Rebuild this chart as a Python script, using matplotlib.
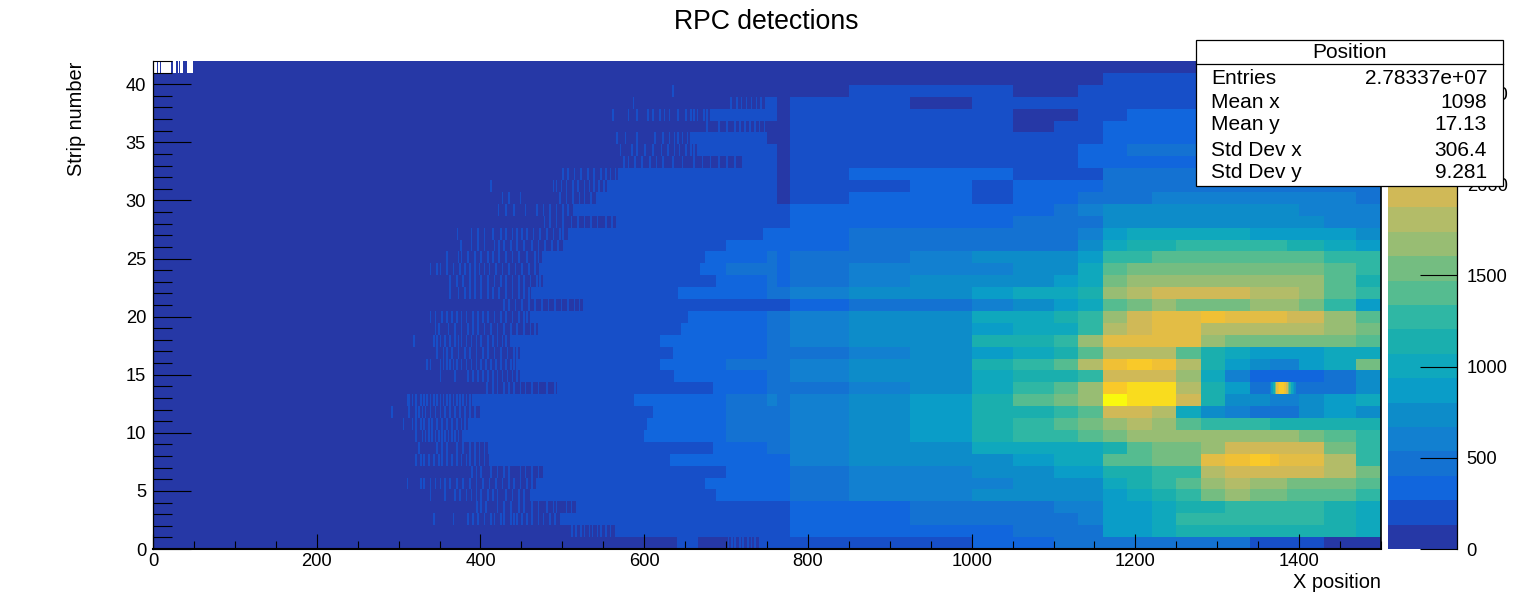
import numpy as np
import matplotlib
matplotlib.use('Agg')
import matplotlib.pyplot as plt
from matplotlib.colors import ListedColormap, BoundaryNorm
from matplotlib.patches import Rectangle
from matplotlib.ticker import MultipleLocator

plt.rcParams['font.family'] = ['Liberation Sans', 'DejaVu Sans']

# x position bin edges, finer where the picture has more structure
x_edges = [0, 320, 360, 400, 450, 500, 550, 600, 650, 700, 750, 762, 778, 850, 925, 1000,
           1050, 1100, 1130, 1160, 1190, 1220, 1250, 1280, 1310, 1340, 1365, 1375, 1385,
           1400, 1430, 1470, 1500]

strip_00 = [0,0,0,0,0,0,0,0,0,1,1,1,1,1,1,2,2,3,3,3,3,3,3,3,3,1,1,1,1,1,0,0]
strip_01 = [0,0,0,0,0,0,1,1,1,1,1,1,2,2,2,2,3,3,3,6,6,7,8,8,8,8,8,8,8,8,8,7]
strip_02 = [0,0,0,0,1,1,1,1,1,1,1,1,2,2,3,3,3,3,4,6,6,7,9,9,9,9,9,9,9,9,8,7]
strip_03 = [0,0,0,0,1,1,1,1,1,1,1,1,2,2,3,3,3,4,4,6,6,7,8,8,9,9,9,9,9,9,8,7]
strip_04 = [0,0,0,1,1,1,1,2,2,2,2,2,3,4,4,5,5,5,5,6,7,8,9,11,12,11,11,11,10,10,10,9]
strip_05 = [0,0,0,1,1,1,1,1,2,2,2,2,3,4,4,4,5,5,5,7,8,9,10,12,13,12,12,12,11,11,11,10]
strip_06 = [0,0,0,0,1,1,1,1,1,2,2,2,3,4,4,5,5,6,6,8,8,9,9,13,14,14,14,14,14,14,13,11]
strip_07 = [0,1,1,1,1,1,1,1,2,2,2,2,4,5,5,5,6,7,7,10,10,11,11,15,16,17,16,15,15,15,13,9]
strip_08 = [0,0,1,1,1,1,1,1,2,2,3,3,4,5,5,7,7,7,7,8,10,11,11,12,14,14,14,14,14,14,11,9]
strip_09 = [0,0,1,1,1,1,1,2,2,3,3,3,4,5,6,8,9,9,10,11,12,12,12,12,12,12,12,12,12,11,10,9]
strip_10 = [0,0,1,1,1,1,1,2,2,3,3,3,4,5,6,8,9,10,11,12,13,12,10,9,9,9,8,8,8,8,8,8]
strip_11 = [0,1,1,1,1,1,1,2,2,3,3,3,4,5,6,8,8,9,10,14,14,13,7,5,4,3,3,3,3,5,6,5]
strip_12 = [0,0,1,1,1,1,1,2,2,3,4,3,4,5,6,8,10,11,12,19,18,18,14,8,5,5,4,4,4,5,6,7]
strip_13 = [0,0,0,0,1,1,1,1,1,2,3,3,3,4,5,7,9,10,12,17,18,18,13,8,6,3,3,3,3,3,3,5]
strip_14 = [0,0,0,1,1,1,1,1,2,2,3,3,4,5,5,7,8,8,9,14,14,14,12,7,4,2,2,2,2,2,3,5]
strip_15 = [0,0,1,1,1,1,1,1,2,3,3,3,4,5,5,8,9,10,13,16,17,16,13,8,6,5,4,4,4,6,7,11]
strip_16 = [0,0,0,1,1,1,1,1,2,2,3,3,3,4,5,6,7,8,10,13,13,13,10,8,7,6,6,6,6,6,7,7]
strip_17 = [0,1,1,1,1,1,1,2,2,2,3,3,4,5,5,8,8,9,12,15,15,15,15,12,11,11,11,11,11,11,11,10]
strip_18 = [0,0,0,0,1,1,1,1,2,2,3,3,4,5,5,6,7,7,9,13,14,15,15,13,13,13,13,13,13,13,12,11]
strip_19 = [0,0,0,1,1,1,1,1,2,2,3,3,4,5,5,7,7,8,9,12,14,15,15,16,15,15,15,15,14,14,12,10]
strip_20 = [0,0,0,0,0,1,1,1,1,1,1,1,2,3,3,4,5,6,7,10,11,12,11,11,11,12,12,12,12,11,9,6]
strip_21 = [0,0,0,0,1,1,1,1,2,2,3,3,4,5,5,6,7,7,8,12,13,14,14,14,14,13,13,13,13,12,10,9]
strip_22 = [0,0,0,0,1,1,1,1,2,2,3,2,3,4,5,5,5,6,7,11,12,12,12,12,12,12,12,12,12,12,10,8]
strip_23 = [0,0,0,0,1,1,1,1,2,3,3,2,3,4,4,4,5,5,7,10,11,11,11,11,11,11,11,11,11,11,10,9]
strip_24 = [0,0,0,0,1,1,1,1,2,2,3,2,3,3,4,5,5,5,6,9,9,10,10,10,10,10,10,10,10,10,9,9]
strip_25 = [0,0,0,0,0,1,1,1,1,2,2,2,2,3,3,3,3,3,5,7,8,8,9,9,9,9,9,9,8,8,7,6]
strip_26 = [0,0,0,0,0,1,1,1,1,1,2,2,2,3,3,3,3,3,4,6,7,7,7,7,7,6,6,6,6,6,6,5]
strip_27 = [0,0,0,0,0,0,1,1,1,1,1,1,2,2,2,2,3,3,3,5,5,5,5,5,5,5,5,5,5,5,4,4]
strip_28 = [0,0,0,0,1,1,1,1,1,1,1,1,2,2,2,2,2,3,4,5,5,5,5,5,5,5,5,5,5,4,4,4]
strip_29 = [0,0,0,0,0,1,1,1,1,1,1,0,1,2,2,1,2,2,3,3,3,4,4,4,4,4,4,4,4,4,4,3]
strip_30 = [0,0,0,0,0,0,1,1,1,1,1,0,1,1,2,1,2,2,2,3,3,3,3,3,3,3,3,3,3,3,3,3]
strip_31 = [0,0,0,0,0,0,1,1,1,1,1,0,1,2,2,2,1,1,1,3,3,3,3,3,3,3,3,3,3,3,3,3]
strip_32 = [0,0,0,0,0,0,0,0,0,1,1,0,1,1,1,1,1,1,2,2,2,2,2,2,2,2,2,2,2,2,2,2]
strip_33 = [0,0,0,0,0,0,0,0,1,1,1,0,1,1,1,1,1,1,2,2,3,3,3,3,3,3,3,3,3,3,3,3]
strip_34 = [0,0,0,0,0,0,0,0,1,1,0,0,1,1,1,1,1,1,1,2,2,2,2,2,2,2,2,2,2,2,2,2]
strip_35 = [0,0,0,0,0,0,0,0,0,0,0,0,1,1,1,1,0,1,1,2,2,2,2,2,2,2,2,2,2,2,2,2]
strip_36 = [0,0,0,0,0,0,0,0,0,1,1,0,1,1,1,1,0,0,1,1,2,2,2,2,2,2,2,2,2,2,2,2]
strip_37 = [0,0,0,0,0,0,0,0,0,0,1,0,1,1,0,1,1,1,1,1,1,1,1,1,1,1,1,1,1,1,1,1]
strip_38 = [0,0,0,0,0,0,0,0,0,0,0,0,0,1,1,1,0,0,1,1,1,1,1,1,1,1,1,1,1,1,1,1]
strip_39 = [0,0,0,0,0,0,0,0,0,0,0,0,0,0,0,0,0,0,0,1,1,1,1,1,1,1,1,1,1,1,1,1]
strip_40 = [0,0,0,0,0,0,0,0,0,0,0,0,0,0,0,0,0,0,0,0,0,0,0,0,0,0,0,0,0,0,0,0]

# x where each strip becomes solid band 1 and band 2 on the rising left edge
band1_from = [740,564,497,517,460,468,476,411,409,377,385,400,390,493,448,444,448,436,470,460,
              525,462,476,472,475,501,507,566,513,541,555,568,720,664,656,750,680,750,1500,1500,1500]
band2_from = [1500,1500,1500,1500,688,674,700,631,684,600,603,611,588,684,637,619,635,619,645,653,
              1500,641,688,668,674,700,745,1500,1500,1500,1500,1500,1500,1500,1500,1500,1500,1500,1500,1500,1500]

# single band 1 bins seen before the strip turns solid
stripes_00 = [640,642,644,646,648,650,652,654,656,658,660,662,664,702,706,710,716,720,726,730,734]
stripes_01 = [511,516,522,526,532,536,542,546,552,558]
stripes_02 = [342,366,384,390,396,404,412,416,424,428,436,440,444,450,456,462,470,476,484,490]
stripes_03 = [395,400,406,420,428,436,446,452,462,470,480,488,492,504,510]
stripes_04 = [338,356,368,374,382,388,394,400,408,414,420,430,438,446,452]
stripes_05 = [310,326,330,338,344,350,356,362,370,378,386,394,402,410,418,426,434,440,448,456,462]
stripes_06 = [389,394,400,412,420,428,434,448,454,462,470]
stripes_07 = [320,326,330,336,342,348,352,358,364,370,376,382,386,392,398,404]
stripes_08 = [324,346,352,358,370,378,386,392,398,404]
stripes_09 = [320,328,332,336,340,344,348,352,356,360,364,368,372]
stripes_10 = [305,316,320,326,330,336,340,346,352,358,364,370,376,380]
stripes_11 = [291,312,320,324,328,332,338,344,350,356,362,368,374,380,386,392]
stripes_12 = [310,312,316,320,326,330,334,338,342,346,350,354,358,362,366,370,374,378,382,386]
stripes_13 = [407,414,420,428,434,440,448,454,462,470,480,490]
stripes_14 = [350,368,384,390,396,402,408,414,420,426,432,438,444]
stripes_15 = [334,338,350,354,358,362,366,370,376,382,388,394,400,406,412,418,424,430,436,440]
stripes_16 = [346,354,358,364,372,380,386,394,402,408,416,424,432,440,444]
stripes_17 = [318,342,346,350,356,362,368,372,376,382,388,394,400,408,414,420,426,430]
stripes_18 = [344,348,360,368,376,384,390,396,404,412,420,428,436,444,452,460,466]
stripes_19 = [338,344,352,358,364,370,376,382,390,396,402,408,416,424,430,438,446,452,456]
stripes_20 = [428,434,442,450,458,466,474,482,490,498,506,514,520]
stripes_21 = [362,372,380,386,392,400,408,414,422,430,438,446,452,458]
stripes_22 = [362,370,378,386,392,400,408,416,424,430,438,446,452,460,468,472]
stripes_23 = [338,346,350,358,366,374,380,386,392,398,404,410,418,426,434,442,450,458,466]
stripes_24 = [358,372,376,384,392,400,408,414,422,430,438,446,456,466,470]
stripes_25 = [375,388,396,404,416,422,428,436,444,452,462,470,478,486,494]
stripes_26 = [371,388,396,404,414,424,430,438,444,450,456,464,472,480,488,496,500]
stripes_27 = [477,484,492,500,510,518,526,534,542,552,560]
stripes_28 = [421,430,440,454,468,476,484,492,500,506]
stripes_29 = [426,434,448,496,504,512,520,526,534]
stripes_30 = [412,488,492,498,504,512,518,526,532,538,544,550]
stripes_31 = [500,506,514,522,530,538,546,552,558,564]
stripes_32 = [574,580,588,596,606,614,622,634,646,660,670,680,690,700,710]
stripes_33 = [570,584,590,600,610,620,628,636,642,650,656,660]
stripes_34 = [566,576,590,612,622,630,636,640,646,652]
stripes_35 = [676,690,700,710,716,722,728,734,740,746]
stripes_36 = [561,580,590,604,610,618,624,630,640,650,656,660,664,672,676]
stripes_37 = [586,705,712,718,724,730,736,742,748]
stripes_38 = [634]
stripes_39 = []
stripes_40 = []

# the hot spot on strip 13
spot_x = [1364,1366,1368,1370,1372,1374,1376,1378,1380,1382,1384,1386,1388,1390,1392,1394]
spot_band = [4,6,8,11,15,16,17,17,17,16,14,11,9,7,6,5]

# bins of the top strip with no entries at all, they stay white
top_empty_bins = [1,2,3,4,6,7,8,10,11,12,13,14,15,16,17,18,19,20,21,25,26,27,30,31,33,34,35,36,41,42,43,44,45,46,47,48]

band_colors = ['#2638a6', '#174fc8', '#1166dd', '#1472d2', '#1280d0', '#0d8cc9', '#0a9dc8',
               '#0fa8bd', '#1aafae', '#2fb7a4', '#55bc90', '#74bd81', '#98bd73', '#b3bc68',
               '#d0b957', '#e3bd45', '#f0c035', '#f9c929', '#f9dc1e', '#f9f90e']
z_max = 2676
n_bands = 20
band_step = z_max / n_bands

stat_names = ['Entries', 'Mean x', 'Mean y', 'Std Dev x', 'Std Dev y']
stat_values = ['2.78337e+07', '1098', '17.13', '306.4', '9.281']

strips = [strip_00, strip_01, strip_02, strip_03, strip_04, strip_05, strip_06, strip_07,
          strip_08, strip_09, strip_10, strip_11, strip_12, strip_13, strip_14, strip_15,
          strip_16, strip_17, strip_18, strip_19, strip_20, strip_21, strip_22, strip_23,
          strip_24, strip_25, strip_26, strip_27, strip_28, strip_29, strip_30, strip_31,
          strip_32, strip_33, strip_34, strip_35, strip_36, strip_37, strip_38, strip_39,
          strip_40]
stripes = [stripes_00, stripes_01, stripes_02, stripes_03, stripes_04, stripes_05, stripes_06,
           stripes_07, stripes_08, stripes_09, stripes_10, stripes_11, stripes_12, stripes_13,
           stripes_14, stripes_15, stripes_16, stripes_17, stripes_18, stripes_19, stripes_20,
           stripes_21, stripes_22, stripes_23, stripes_24, stripes_25, stripes_26, stripes_27,
           stripes_28, stripes_29, stripes_30, stripes_31, stripes_32, stripes_33, stripes_34,
           stripes_35, stripes_36, stripes_37, stripes_38, stripes_39, stripes_40]

# put the coarse strips on the 1500 x bins, then add the finer reads on top
widths = np.diff(x_edges)
bands = np.repeat(np.array(strips), widths, axis=1)
for row in range(len(strips)):
    left = bands[row, :750].copy()
    edge = np.zeros(750, dtype=int)
    edge[band1_from[row]:] = 1
    edge[band2_from[row]:] = 2
    for x in stripes[row]:
        edge[x:x + 2] = np.maximum(edge[x:x + 2], 1)
    bands[row, :750] = np.where(left >= 3, left, edge)
for x, band in zip(spot_x, spot_band):
    bands[13, x:x + 2] = band

counts = (bands + 0.5) * band_step
x_bins = np.arange(1501)
y_edges = np.linspace(0, 42, len(strips) + 1)

W, H = 1534, 610
cmap = ListedColormap(band_colors)
bounds = np.linspace(0, z_max, n_bands + 1)
norm = BoundaryNorm(bounds, n_bands)


def px_axes(left, top, right, bottom, **kw):
    return fig.add_axes([left / W, 1 - bottom / H, (right - left) / W, (bottom - top) / H], **kw)


fig = plt.figure(figsize=(W / 100, H / 100), dpi=100)

ax = px_axes(153, 61, 1381, 549)
ax.pcolormesh(x_bins, y_edges, counts, cmap=cmap, norm=norm)

top_row = np.zeros((1, 50))
top_row[0, top_empty_bins] = 1
ax.pcolormesh(np.arange(51), y_edges[-2:], top_row,
              cmap=ListedColormap([band_colors[0], 'white']), vmin=0, vmax=1)

ax.set_xlim(0, 1500)
ax.set_ylim(0, 42)
ax.xaxis.set_major_locator(MultipleLocator(200))
ax.xaxis.set_minor_locator(MultipleLocator(50))
ax.yaxis.set_major_locator(MultipleLocator(5))
ax.yaxis.set_minor_locator(MultipleLocator(1))
ax.tick_params(axis='x', which='major', direction='in', length=11, width=0.8, labelsize=13.2, pad=3)
ax.tick_params(axis='x', which='minor', direction='in', length=5.5, width=0.8)
ax.tick_params(axis='y', which='major', direction='in', length=27, width=0.8, labelsize=13.2, pad=5)
ax.tick_params(axis='y', which='minor', direction='in', length=13.5, width=0.8)
ax.spines['top'].set_visible(False)
ax.spines['bottom'].set_linewidth(1.5)
ax.spines['left'].set_linewidth(0.9)
ax.spines['right'].set_linewidth(1.2)

# palette on the right
cax = px_axes(1388, 61, 1457, 549)
cax.pcolormesh([0, 1], bounds, np.arange(n_bands).reshape(-1, 1), cmap=cmap, vmin=-0.5, vmax=n_bands - 0.5)
cax.set_xlim(0, 1)
cax.set_ylim(0, z_max)
cax.set_xticks([])
cax.yaxis.tick_right()
cax.yaxis.set_major_locator(MultipleLocator(500))
cax.tick_params(axis='y', direction='in', length=27, width=0.8, labelsize=13.2, pad=7)
for side in ['top', 'left', 'bottom']:
    cax.spines[side].set_visible(False)
cax.spines['right'].set_linewidth(0.9)

# title, axis titles and stats box, in pixel coordinates
over = fig.add_axes([0, 0, 1, 1], zorder=10)
over.set_xlim(0, W)
over.set_ylim(H, 0)
over.axis('off')
over.text(766, 22, 'RPC detections', ha='center', va='center', fontsize=19.2)
over.text(1381, 582, 'X position', ha='right', va='center', fontsize=14.4)
over.text(76, 119, 'Strip number', ha='center', va='center', rotation=90, fontsize=14.4)

over.add_patch(Rectangle((1195.5, 39.5), 307, 146, facecolor='white', edgecolor='black', linewidth=0.9))
over.plot([1195.5, 1502.5], [63.5, 63.5], color='black', linewidth=0.9)
over.text(1349, 53, 'Position', ha='center', va='center', fontsize=15)
row_y = [78, 102, 125, 150, 173]
for y, name, value in zip(row_y, stat_names, stat_values):
    over.text(1211, y, name, ha='left', va='center', fontsize=15)
    over.text(1487, y, value, ha='right', va='center', fontsize=15)

fig.savefig('out.png', dpi=100)
